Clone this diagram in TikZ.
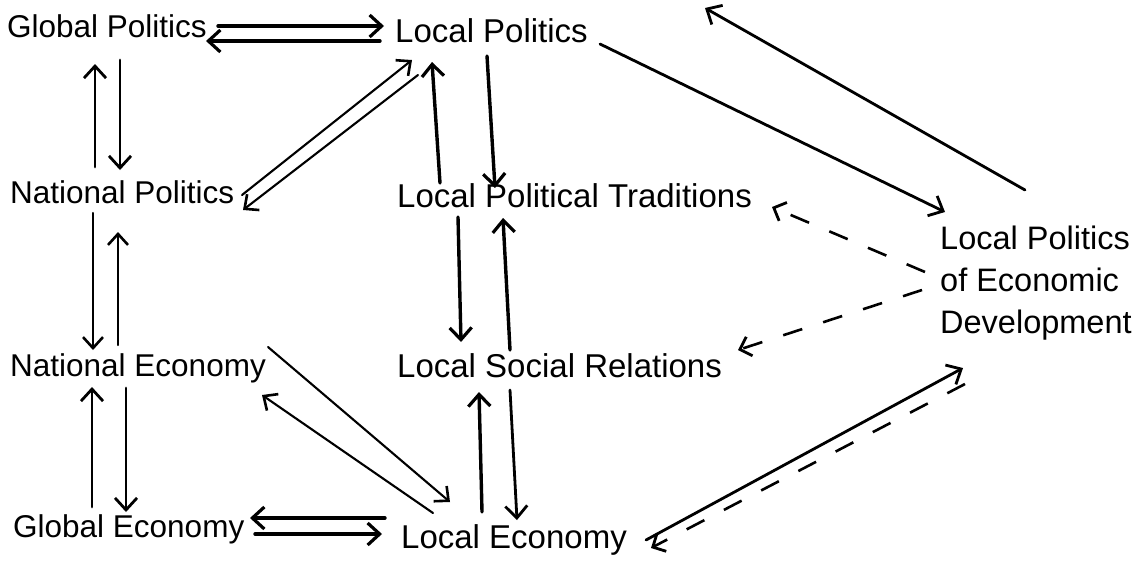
\documentclass[tikz,border=0pt]{standalone}
\usepackage{fontspec}
\setmainfont{Liberation Sans}
\usetikzlibrary{arrows.meta}
\begin{document}
\begin{tikzpicture}[x=1pt,y=-1pt,
  lbl/.style={anchor=base west, inner sep=0pt, font=\fontsize{31.5}{42}\selectfont},
  lblw/.style={anchor=base west, inner sep=0pt, font=\fontsize{33}{42}\selectfont},
  thk/.style={line width=3.4pt, line cap=round, -{Straight Barb[length=12pt,width=22pt,line width=3.2pt]}},
  mid/.style={line width=2.8pt, line cap=round, -{Straight Barb[length=12pt,width=22pt,line width=2.8pt]}},
  thn/.style={line width=2.1pt, line cap=round, -{Straight Barb[length=11pt,width=20pt,line width=2.6pt]}},
  dsh/.style={line width=2.6pt, dash pattern=on 20pt off 22pt, -{Straight Barb[length=10pt,width=20pt,line width=2.8pt]}}]
\useasboundingbox (0,0) rectangle (1145,560);
\node[lbl] (gp) at (7,37) {Global Politics};
\node[lblw] (lp) at (395,42) {Local Politics};
\node[lbl] (np) at (10,203) {National Politics};
\node[lblw] (lpt) at (397,207) {Local Political Traditions};
\node[lbl] (ne) at (10,376) {National Economy};
\node[lblw] (lsr) at (397,377) {Local Social Relations};
\node[lbl] (ge) at (13,537) {Global Economy};
\node[lblw] (le) at (401,548) {Local Economy};
\node[lblw, align=left, font=\fontsize{32.5}{42}\selectfont] (lped) at (940,333) {Local Politics\\of Economic\\Development};
% Global Politics <-> Local Politics
\draw[thk] ([shift={(211,-11)}]gp.base west) -- ([shift={(-11,-16)}]lp.base west);
\draw[thk] ([shift={(-15,-1)}]lp.base west) -- ([shift={(199,4)}]gp.base west);
% Global Politics <-> National Politics
\draw[mid] ([shift={(85,-36)}]np.base west) -- ([shift={(88,27)}]gp.base west);
\draw[mid] ([shift={(113,23)}]gp.base west) -- ([shift={(110,-33)}]np.base west);
% National Politics <-> National Economy
\draw[thn] ([shift={(83,10)}]np.base west) -- ([shift={(83,-26)}]ne.base west);
\draw[thn] ([shift={(108,-31)}]ne.base west) -- ([shift={(108,29)}]np.base west);
% National Economy <-> Global Economy
\draw[mid] ([shift={(79,-30)}]ge.base west) -- ([shift={(82,11)}]ne.base west);
\draw[mid] ([shift={(116,12)}]ne.base west) -- ([shift={(113,-25)}]ge.base west);
% Global Economy <-> Local Economy
\draw[thk] ([shift={(-16,-30)}]le.base west) -- ([shift={(237,-19)}]ge.base west);
\draw[thk] ([shift={(242,-3)}]ge.base west) -- ([shift={(-19,-14)}]le.base west);
% National Politics <-> Local Politics
\draw[thn] ([shift={(232,-8)}]np.base west) -- ([shift={(17,18)}]lp.base west);
\draw[thn] ([shift={(23,33)}]lp.base west) -- ([shift={(233,7)}]np.base west);
% Local Politics <-> Local Political Traditions
\draw[thk] ([shift={(43,-24)}]lpt.base west) -- ([shift={(37,20)}]lp.base west);
\draw[thk] ([shift={(92,14)}]lp.base west) -- ([shift={(98,-19)}]lpt.base west);
% Local Political Traditions <-> Local Social Relations
\draw[thk] ([shift={(61,10)}]lpt.base west) -- ([shift={(64,-35)}]lsr.base west);
\draw[thk] ([shift={(113,-27)}]lsr.base west) -- ([shift={(106,11)}]lpt.base west);
% Local Social Relations <-> Local Economy
\draw[thk] ([shift={(81,-36)}]le.base west) -- ([shift={(82,15)}]lsr.base west);
\draw[mid] ([shift={(113,13)}]lsr.base west) -- ([shift={(116,-28)}]le.base west);
% National Economy <-> Local Economy
\draw[thn] ([shift={(258,-29)}]ne.base west) -- ([shift={(49,-46)}]le.base west);
\draw[thn] ([shift={(32,-35)}]le.base west) -- ([shift={(252,19)}]ne.base west);
% Local Politics <-> Local Politics of Economic Development
\draw[mid] ([shift={(85,-143)}]lped.base west) -- ([shift={(310,-34)}]lp.base west);
\draw[mid] ([shift={(205,2)}]lp.base west) -- ([shift={(5,-121)}]lped.base west);
% dashed influences
\draw[dsh] ([shift={(-15,-61)}]lped.base west) -- ([shift={(375,0)}]lpt.base west);
\draw[dsh] ([shift={(-18,-43)}]lped.base west) -- ([shift={(341,-27)}]lsr.base west);
% Local Economy <-> Local Politics of Economic Development
\draw[mid] ([shift={(245,-8)}]le.base west) -- ([shift={(23,35)}]lped.base west);
\draw[dsh] ([shift={(25,51)}]lped.base west) -- ([shift={(250,0)}]le.base west);
\end{tikzpicture}
\end{document}
